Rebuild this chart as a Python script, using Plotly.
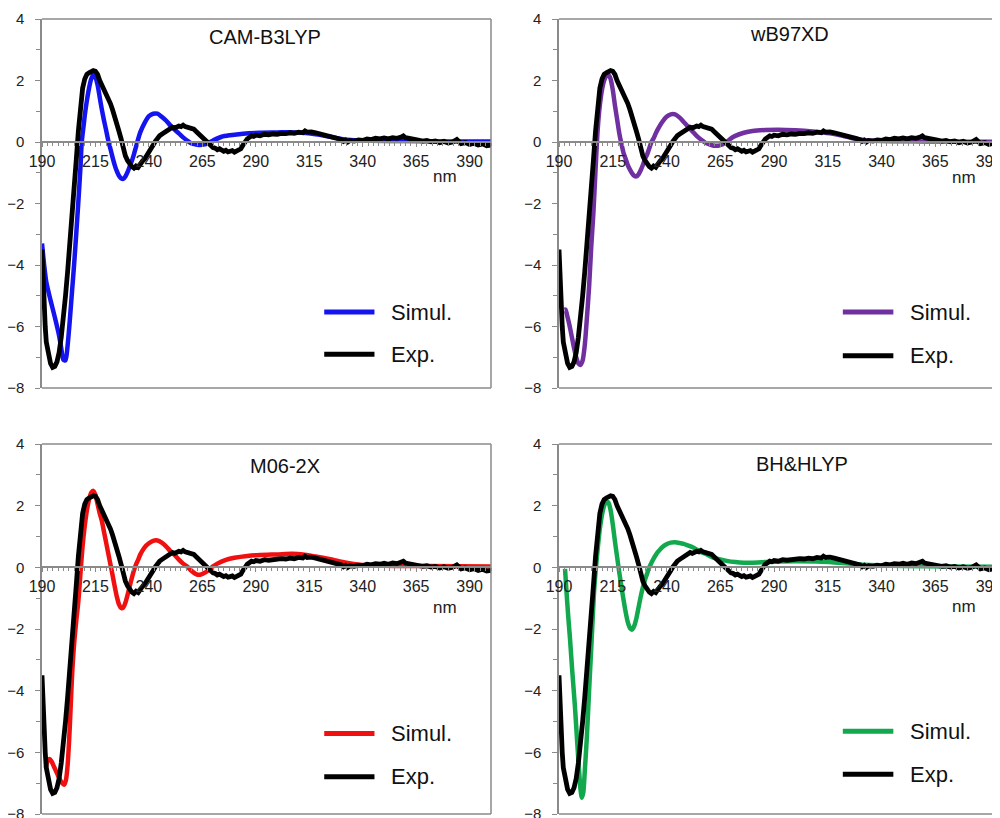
import plotly.graph_objects as go

# ---------------- data ----------------
wl_exp = [190, 190.5, 191, 191.5, 192, 193, 194, 195, 196, 197, 198, 199, 200, 201, 202, 203, 204, 205, 206, 207,
          208, 209, 210, 211, 212, 213, 214, 215, 216, 217, 218, 219, 220, 221, 222, 223, 224, 225, 226, 227,
          228, 229, 230, 231, 232, 233, 234, 235, 236, 237, 238, 239, 240, 241, 242, 243, 244, 245, 246, 247,
          248, 249, 250, 251, 252, 253, 254, 255, 256, 257, 258, 259, 260, 261, 262, 263, 264, 265, 266, 267,
          268, 269, 270, 271, 272, 273, 274, 275, 276, 277, 278, 279, 280, 281, 282, 283, 284, 285, 286, 287,
          288, 289, 290, 292, 294, 296, 298, 300, 302, 304, 306, 308, 310, 312, 313, 314, 316, 318, 320, 322,
          324, 326, 328, 330, 331, 332, 333, 334, 336, 338, 340, 342, 344, 346, 348, 350, 352, 354, 356, 358,
          359, 360, 362, 364, 366, 368, 370, 372, 374, 376, 378, 380, 382, 384, 385, 386, 388, 390, 392, 394,
          396, 398, 400]
cd_exp = [-3.5, -4.6, -5.4, -6.0, -6.5, -6.95, -7.2, -7.33, -7.3, -7.15, -6.85, -6.35, -5.75, -5.0, -4.2, -3.4, -2.5, -1.6, -0.6, 0.35,
          1.2, 1.75, 2.05, 2.2, 2.25, 2.28, 2.32, 2.3, 2.2, 2.0, 1.85, 1.78, 1.6, 1.45, 1.25, 1.05, 0.85, 0.6, 0.35, 0.1,
          -0.2, -0.45, -0.6, -0.72, -0.8, -0.85, -0.78, -0.82, -0.7, -0.62, -0.55, -0.45, -0.35, -0.25, -0.1, 0.02, 0.12, 0.2, 0.25, 0.3,
          0.33, 0.38, 0.42, 0.48, 0.45, 0.5, 0.52, 0.5, 0.55, 0.5, 0.48, 0.5, 0.45, 0.42, 0.35, 0.28, 0.22, 0.15, 0.1, 0.02,
          -0.05, -0.1, -0.18, -0.2, -0.25, -0.22, -0.28, -0.3, -0.27, -0.32, -0.3, -0.28, -0.33, -0.3, -0.28, -0.22, -0.1, 0.02, 0.1, 0.15,
          0.2, 0.18, 0.22, 0.2, 0.25, 0.23, 0.26, 0.25, 0.28, 0.27, 0.3, 0.28, 0.32, 0.3, 0.36, 0.32, 0.33, 0.3, 0.27, 0.24,
          0.2, 0.17, 0.12, 0.08, 0.02, 0.06, 0.0, 0.05, 0.03, 0.07, 0.05, 0.1, 0.08, 0.12, 0.1, 0.13, 0.1, 0.14, 0.12, 0.16,
          0.2, 0.14, 0.1, 0.08, 0.06, 0.03, 0.05, 0.01, 0.03, -0.02, 0.02, -0.03, 0.0, 0.08, 0.0, -0.05, -0.02, -0.08, -0.04, -0.1,
          -0.06, -0.12, -0.1]

wl_cam = [190, 191, 192, 194, 196, 198, 199, 200, 201, 202, 203, 204, 205, 206, 207, 208, 208.6, 209.5, 210, 211,
          212, 213, 214, 215, 216, 217, 218, 219, 220, 221, 222, 223, 224, 225, 226, 227, 228, 229, 230, 231,
          232, 233, 234, 235, 236, 238, 240, 242, 244, 246, 248, 250, 252, 254, 256, 258, 260, 262, 264, 266,
          268, 270, 274, 278, 284, 292, 300, 306, 312, 318, 324, 330, 336, 344, 360, 380, 400]
cd_cam = [-3.3, -4.0, -4.55, -5.15, -5.7, -6.3, -6.7, -7.08, -7.1, -6.6, -5.8, -4.9, -4.0, -3.0, -1.95, -0.8, 0.0, 0.55, 0.86, 1.35,
          1.75, 2.05, 2.18, 2.1, 1.85, 1.45, 1.05, 0.7, 0.38, 0.05, -0.22, -0.5, -0.75, -0.95, -1.1, -1.18, -1.2, -1.12, -0.98, -0.8,
          -0.62, -0.4, -0.15, 0.1, 0.32, 0.62, 0.84, 0.92, 0.92, 0.82, 0.7, 0.54, 0.4, 0.28, 0.15, 0.04, -0.05, -0.08, -0.1, -0.08,
          -0.02, 0.05, 0.17, 0.22, 0.27, 0.3, 0.31, 0.32, 0.3, 0.25, 0.18, 0.1, 0.06, 0.04, 0.03, 0.02, 0.02]

wl_wb = [192.5, 193, 194, 195, 196, 197, 198, 199, 200, 201, 202, 203, 204, 205, 206, 207, 208, 209, 210, 211,
         212, 213, 214, 215, 216, 217, 218, 219, 220, 221, 222, 223, 224, 225, 226, 227, 228, 229, 230, 231,
         232, 233, 234, 235, 236, 238, 240, 242, 244, 246, 248, 250, 252, 254, 256, 258, 260, 262, 264, 266,
         268, 270, 272, 276, 280, 286, 292, 300, 308, 316, 322, 326, 330, 334, 340, 360, 380, 400]
cd_wb = [-5.45, -5.45, -5.7, -6.0, -6.35, -6.7, -7.0, -7.2, -7.25, -7.1, -6.6, -5.7, -4.7, -3.4, -2.3, -0.9, 0.4, 1.2, 1.7, 2.0,
         2.15, 2.18, 2.05, 1.7, 1.2, 0.75, 0.3, -0.05, -0.35, -0.55, -0.75, -0.9, -1.02, -1.1, -1.12, -1.05, -0.92, -0.75, -0.55, -0.4,
         -0.2, 0.0, 0.12, 0.28, 0.42, 0.65, 0.82, 0.9, 0.9, 0.8, 0.65, 0.5, 0.35, 0.2, 0.08, -0.02, -0.08, -0.12, -0.12, -0.08,
         0.0, 0.12, 0.2, 0.3, 0.36, 0.39, 0.4, 0.38, 0.34, 0.28, 0.2, 0.13, 0.08, 0.05, 0.03, 0.02, 0.01, 0.01]

wl_m06 = [191.8, 192.5, 193.5, 194.5, 195.5, 196.5, 197.5, 198.5, 199.5, 200.4, 201.2, 202, 202.7, 203.3, 204, 205, 206, 207, 208.2, 209,
          210, 211, 212, 213, 214, 215, 216, 217, 218, 219, 220, 221, 222, 223, 224, 225, 226, 227, 228, 229,
          230, 231, 232, 233, 234, 235, 236, 238, 240, 242, 244, 246, 248, 250, 252, 254, 256, 258, 260, 262,
          264, 266, 268, 270, 272, 276, 280, 286, 292, 300, 307, 312, 318, 322, 326, 330, 335, 340, 350, 370, 400]
cd_m06 = [-6.5, -6.3, -6.22, -6.3, -6.45, -6.6, -6.75, -6.9, -7.0, -7.05, -6.9, -6.4, -5.6, -4.7, -3.6, -2.5, -1.75, -1.1, 0.0, 0.7,
          1.35, 1.85, 2.2, 2.42, 2.48, 2.35, 2.05, 1.75, 1.5, 1.15, 0.8, 0.45, 0.1, -0.25, -0.62, -0.95, -1.2, -1.32, -1.3, -1.15,
          -0.9, -0.62, -0.35, -0.1, 0.1, 0.25, 0.42, 0.65, 0.78, 0.86, 0.87, 0.8, 0.68, 0.53, 0.4, 0.25, 0.12, 0.02, -0.12, -0.22,
          -0.24, -0.18, -0.08, 0.03, 0.12, 0.24, 0.31, 0.37, 0.4, 0.42, 0.44, 0.42, 0.35, 0.3, 0.25, 0.18, 0.12, 0.08, 0.05, 0.04, 0.03]

wl_bh = [192.8, 193.5, 194.3, 195.1, 196.2, 197.4, 198.4, 199.4, 200, 200.6, 201.3, 202, 202.9, 204, 205.2, 206.3, 207.2, 208, 209, 210,
         211, 212, 213, 214, 215, 216, 217, 218, 219, 220, 221, 222, 223, 224, 225, 226, 227, 228, 229, 230,
         231, 232, 233, 234, 235, 236, 237, 238, 240, 242, 244, 246, 248, 250, 252, 254, 256, 258, 260, 262,
         264, 268, 272, 276, 280, 286, 292, 300, 310, 318, 325, 332, 340, 350, 370, 400]
cd_bh = [-0.05, -0.8, -1.6, -2.3, -3.4, -4.5, -5.6, -6.65, -7.2, -7.47, -7.3, -6.6, -5.57, -4.0, -2.34, -0.8, 0.0, 0.6, 1.25, 1.7,
         2.0, 2.12, 2.1, 1.85, 1.4, 0.85, 0.35, -0.15, -0.6, -1.05, -1.45, -1.78, -1.97, -2.02, -1.9, -1.65, -1.3, -0.95, -0.65, -0.4,
         -0.2, 0.0, 0.15, 0.28, 0.4, 0.5, 0.58, 0.65, 0.75, 0.8, 0.81, 0.79, 0.76, 0.71, 0.66, 0.58, 0.5, 0.44, 0.37, 0.31,
         0.27, 0.21, 0.17, 0.15, 0.15, 0.17, 0.19, 0.2, 0.19, 0.16, 0.12, 0.08, 0.06, 0.04, 0.03, 0.02]

methods = ["CAM-B3LYP", "wB97XD", "M06-2X", "BH&HLYP"]
sim_colors = ["#1414F0", "#7030A0", "#F01010", "#12A84E"]
sim_wl = [wl_cam, wl_wb, wl_m06, wl_bh]
sim_cd = [cd_cam, cd_wb, cd_m06, cd_bh]
legend_labels = ["Simul.", "Exp."]
y_range = [-8, 4]

# ---------------- layout geometry ----------------
# the page body has an 8px margin, so the figure starts at (8, 8) on screen
OFF = 8
W, H = 1000 - OFF, 818 - OFF


def fx(px):
    return (px - OFF) / W


def fy(py):
    return 1 - (py - OFF) / H


x_doms = [(fx(42), fx(491)), (fx(559), 1.0), (fx(42), fx(491)), (fx(559), 1.0)]
y_doms = [(fy(388), fy(19)), (fy(388), fy(19)), (fy(814), fy(444)), (fy(814), fy(444))]
x_ranges = [[190, 400], [190, 395.1], [190, 400], [190, 395.1]]
title_pos = [(294.5, 3.4), (297, 3.5), (303.5, 3.28), (303, 3.34)]
nm_y = [-1.12, -1.15, -1.3, -1.28]
leg_y = [(-5.53, -6.9), (-5.53, -6.95), (-5.39, -6.79), (-5.32, -6.71)]

GRAY = "#8a8a8a"
FONT = "Liberation Sans, Arial, sans-serif"

fig = go.Figure()
layout = dict(width=W, height=H, margin=dict(l=0, r=0, t=0, b=0, autoexpand=False),
              template="none",
              paper_bgcolor="white", plot_bgcolor="white", showlegend=False,
              shapes=[], annotations=[])

for i in range(4):
    sfx = "" if i == 0 else str(i + 1)
    xa, ya = "x" + sfx, "y" + sfx
    fig.add_trace(go.Scatter(x=sim_wl[i], y=sim_cd[i], mode="lines", xaxis=xa, yaxis=ya,
                             line=dict(color=sim_colors[i], width=4.5, shape="spline", smoothing=0.7),
                             name=legend_labels[0]))
    fig.add_trace(go.Scatter(x=wl_exp, y=cd_exp, mode="lines", xaxis=xa, yaxis=ya,
                             line=dict(color="black", width=4.8), name=legend_labels[1]))

    yd = y_doms[i]
    pos0 = yd[0] + (0 - y_range[0]) / (y_range[1] - y_range[0]) * (yd[1] - yd[0])
    layout["xaxis" + sfx] = dict(
        domain=list(x_doms[i]), range=x_ranges[i], anchor="free", position=pos0, automargin=False,
        showline=True, linecolor=GRAY, linewidth=1.5, showgrid=False, zeroline=False,
        tickmode="linear", tick0=190, dtick=25, ticks="outside", ticklen=4, tickwidth=1, tickcolor=GRAY,
        minor=dict(tick0=190, dtick=2.5, ticks="outside", ticklen=3, tickcolor=GRAY, showgrid=False),
        tickfont=dict(family=FONT, size=16, color="#222"), ticklabelstandoff=1,
        ticklabeloverflow="allow")
    layout["yaxis" + sfx] = dict(
        domain=list(yd), range=y_range, anchor=xa, automargin=False,
        showline=True, linecolor=GRAY, linewidth=1.5, showgrid=False, zeroline=False,
        tickmode="linear", tick0=-8, dtick=2, ticks="outside", ticklen=5, tickwidth=1, tickcolor=GRAY,
        minor=dict(dtick=1, ticks="outside", ticklen=4, tickcolor=GRAY, showgrid=False),
        tickfont=dict(family=FONT, size=15, color="#222"), ticklabelstandoff=8,
        ticklabeloverflow="allow")

    xdom, ydom = xa + " domain", ya + " domain"
    layout["shapes"].append(dict(type="line", xref=xdom, yref=ydom, x0=0, x1=1, y0=1, y1=1,
                                 line=dict(color=GRAY, width=1.5)))
    layout["shapes"].append(dict(type="line", xref=xdom, yref=ydom, x0=0, x1=1, y0=0, y1=0,
                                 line=dict(color=GRAY, width=1.5)))
    if i in (0, 2):
        layout["shapes"].append(dict(type="line", xref=xdom, yref=ydom, x0=1, x1=1, y0=0, y1=1,
                                     line=dict(color=GRAY, width=1.5)))
    for k, (lab, col) in enumerate(zip(legend_labels, [sim_colors[i], "black"])):
        yy = leg_y[i][k]
        layout["shapes"].append(dict(type="line", xref=xa, yref=ya, x0=322, x1=345.5, y0=yy, y1=yy,
                                     line=dict(color=col, width=5)))
        layout["annotations"].append(dict(xref=xa, yref=ya, x=352.5, y=yy, text=lab, showarrow=False,
                                          xanchor="left", yanchor="middle",
                                          font=dict(family=FONT, size=22, color="#111")))
    layout["annotations"].append(dict(xref=xa, yref=ya, x=title_pos[i][0], y=title_pos[i][1],
                                      text=methods[i], showarrow=False, xanchor="center", yanchor="middle",
                                      font=dict(family=FONT, size=20, color="#111")))
    layout["annotations"].append(dict(xref=xa, yref=ya, x=378.5, y=nm_y[i], text="nm", showarrow=False,
                                      xanchor="center", yanchor="middle",
                                      font=dict(family=FONT, size=17, color="#222")))

fig.update_layout(**layout)
fig.write_html("out.html")
